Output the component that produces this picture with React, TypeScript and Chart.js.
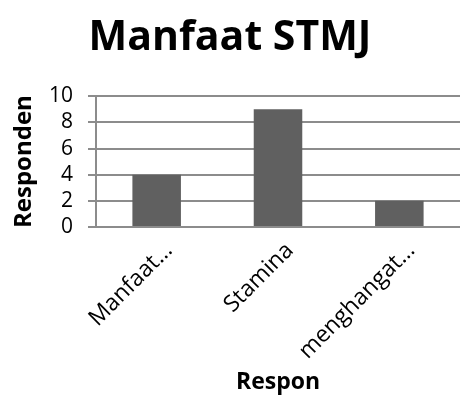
import React, { useEffect, useRef } from "react";
import { Chart, registerables } from "chart.js";

Chart.register(...registerables);

const chartTitle = "Manfaat STMJ";
const categories = ["Manfaat…", "Stamina", "menghangat…"];
const responden = [4, 9, 2];
const yTicks = [0, 2, 4, 6, 8, 10];
const yTitle = "Responden";
const xTitle = "Respon";

const FONT = "'Open Sans', 'Noto Sans', sans-serif";
const GRID = "#8c8c8c";

export default function App() {
  const ref = useRef<HTMLCanvasElement | null>(null);
  useEffect(() => {
    document.body.style.margin = "0";
    const ctx = ref.current!;
    const chart = new Chart(ctx, {
      type: "bar",
      data: {
        labels: categories,
        datasets: [
          {
            label: yTitle,
            data: responden,
            backgroundColor: "#606060",
            borderWidth: 0,
            barPercentage: 0.8,
            categoryPercentage: 0.5,
          },
        ],
      },
      options: {
        responsive: false,
        animation: false,
        layout: { padding: { left: 0, right: 2, top: 0, bottom: 4 } },
        plugins: {
          legend: { display: false },
          tooltip: { enabled: false },
          title: {
            display: true,
            text: chartTitle,
            color: "#000",
            font: { family: FONT, size: 41, weight: "bold" },
            padding: { top: 14, bottom: 33 },
          },
        },
        scales: {
          x: {
            grid: { display: false, drawTicks: false },
            border: { display: false },
            ticks: {
              color: "#000",
              font: { family: FONT, size: 23 },
              maxRotation: 45,
              minRotation: 45,
              autoSkip: false,
              padding: 10,
              labelOffset: 12,
            },
            title: {
              display: true,
              text: xTitle,
              color: "#000",
              font: { family: FONT, size: 23, weight: "bold" },
              padding: { top: 4, bottom: 0 },
            },
            afterFit: (s: any) => {
              s.height = 169;
            },
          },
          y: {
            min: yTicks[0],
            max: yTicks[yTicks.length - 1],
            afterBuildTicks: (s: any) => {
              s.ticks = yTicks.map((v) => ({ value: v }));
            },
            grid: { color: GRID, lineWidth: 2, tickLength: 8 },
            border: { display: true, color: GRID, width: 2 },
            ticks: {
              color: "#000",
              font: { family: FONT, size: 21 },
              padding: 15,
              autoSkip: false,
            },
            title: {
              display: true,
              text: yTitle,
              color: "#000",
              font: { family: FONT, size: 24, weight: "bold" },
              padding: { top: 10, bottom: 0 },
            },
            afterFit: (s: any) => {
              s.width = 96;
            },
          },
        },
      },
    });
    return () => chart.destroy();
  }, []);
  return (
    <div style={{ position: "absolute", left: 0, top: 0, width: 462, height: 400 }}>
      <canvas ref={ref} width={462} height={400} style={{ width: 462, height: 400 }} />
    </div>
  );
}
